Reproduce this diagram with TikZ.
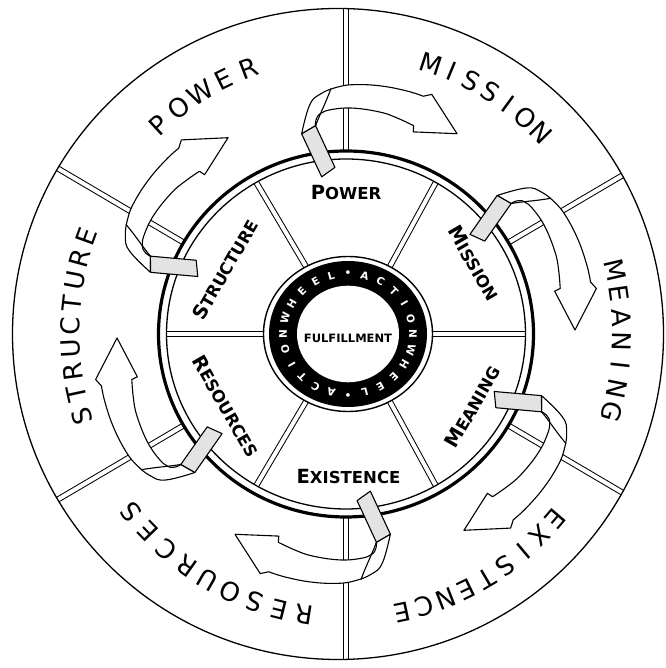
\documentclass[tikz,border=0pt]{standalone}
\usepackage{fontspec}
\newfontfamily\dvs{DejaVu Sans}
\tikzset{
 dbl/.style={draw=black,line width=1pt,double=white,double distance=4pt},
 ol/.style={font=\dvs\fontsize{26}{26}\selectfont, inner sep=0pt},
 il/.style={font=\dvs\bfseries, inner sep=0pt},
 hl/.style={font=\dvs\bfseries\fontsize{10.5}{10.5}\selectfont, text=white, inner sep=0pt},
 band/.style={draw=black,line width=1.1pt,fill=white,line join=round},
 twist/.style={draw=black,line width=1.1pt,fill=gray!22,line join=round},
}
\newcommand\initcap[2]{{\fontsize{19.5}{20}\selectfont #1}{\fontsize{16.5}{17}\selectfont #2}}
\newcommand\ringword[4]{%
 \foreach \ch [count=\i from 0] in {#4} {\pgfmathsetmacro\ang{#2-\i*#3}
 \node[ol,rotate=\ang-90] (#1\i) at (\ang:276 and 284) {\ch};}}
\begin{document}
\begin{tikzpicture}[x=1pt,y=1pt]
\useasboundingbox (0,0) rectangle (665,668);
\fill[white] (0,0) rectangle (665,668);
\begin{scope}[shift={(346,334)}]
 % outer dividers
 \begin{scope}
  \clip (-8,0) circle (325.5);
  \foreach \a in {90,30,-30,-90,-150,150} \draw[dbl] (\a:187.5 and 183) -- (\a:420);
 \end{scope}
 \draw[line width=1.3pt] (-8,0) circle (325.5);
 % spokes
 \foreach \a in {0,60,...,300} \draw[dbl] ([xshift=2pt]\a:80 and 74) -- (\a:179.5 and 175);
 % rim
 \draw[line width=3.2pt] (0,0) ellipse [x radius=187.5,y radius=183];
 \draw[line width=1.3pt] (0,0) ellipse [x radius=179.5,y radius=175];
 % hub
 \filldraw[fill=white,line width=1.4pt] (2,0) ellipse [x radius=84.5,y radius=77.5];
 \fill[black] (2,0) ellipse [x radius=79,y radius=73];
 \fill[white] (2,0) ellipse [x radius=51,y radius=48.3];
 \foreach \ch [count=\i from 0] in {\textbullet,A,C,T,I,O,N,W,H,E,E,L,\textbullet,A,C,T,I,O,N,W,H,E,E,L}{
   \pgfmathsetmacro\ang{90-15*\i}
   \node[hl,rotate=\ang-90] (hub\i) at ([xshift=2pt]\ang:65 and 60.5) {\ch};}
 \node[font=\dvs\bfseries\fontsize{11.5}{12}\selectfont, inner sep=0pt] (ful) at (2,-4) {FULFILLMENT};
 % inner labels
 \node[il] (ipower) at (90:141) {\initcap{P}{OWER}};
 \node[il,rotate=-60] (imission) at (29:146) {\initcap{M}{ISSION}};
 \node[il,rotate=60] (imeaning) at (-30:146) {\initcap{M}{EANING}};
 \node[il] (iexist) at (-89:143) {\initcap{E}{XISTENCE}};
 \node[il,rotate=-60] (iresources) at (211:140) {\initcap{R}{ESOURCES}};
 \node[il,rotate=60] (istructure) at (152:137) {\initcap{S}{TRUCTURE}};
 % outer labels
 \ringword{opow}{132.75}{5.5}{P,O,W,E,R}
 \ringword{omis}{72}{4.5}{M,I,S,S,I,O,N}
 \ringword{omea}{13}{4.83}{M,E,A,N,I,N,G}
 \ringword{oexi}{-40.6}{4.7}{E,X,I,S,T,E,N,C,E}
 \ringword{ores}{261.2}{5.3}{R,E,S,O,U,R,C,E,S}
 \ringword{ostr}{196.8}{4.6}{S,T,R,U,C,T,U,R,E}
 % arrows
 \foreach \k in {0,...,5}{
  \begin{scope}[rotate=-60*\k]
   \filldraw[band] plot[smooth,tension=0.7] coordinates {(102.5:205) (99:232) (96:241.5) (92:247) (88:249.5) (82:250.5) (76:250.5) (72:250)}
     -- (70.3:254.5) -- (61:229) -- (71.6:213)
     -- plot[smooth,tension=0.7] coordinates {(72:219) (76.7:222) (81.3:224.5) (88.2:226) (93.5:225) (96.6:222) (98:216) (98.3:210.5)} -- cycle;
   \draw[line width=1.1pt] (98.3:210.5) .. controls (97:220) and (95:232) .. (93.5:246);
   \filldraw[twist] (102.5:205) -- (98.3:210.5) -- (93.8:167) -- (98.8:159) -- cycle;
  \end{scope}}
\end{scope}
\end{tikzpicture}
\end{document}
